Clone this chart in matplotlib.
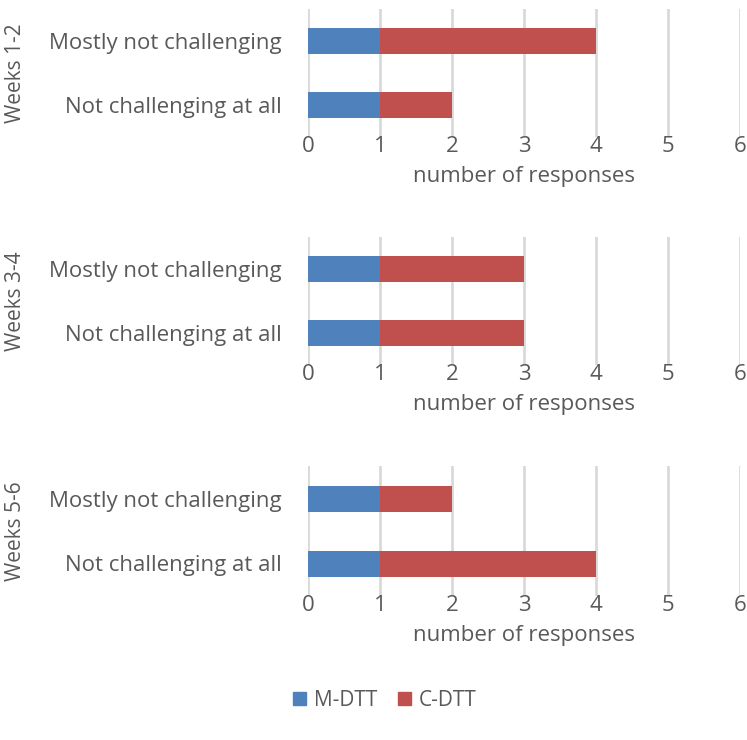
import matplotlib.pyplot as plt
from matplotlib.patches import Patch

plt.rcParams["font.family"] = ["Open Sans", "DejaVu Sans"]

categories = ["Not challenging at all", "Mostly not challenging"]
periods = ["Weeks 1-2", "Weeks 3-4", "Weeks 5-6"]
# values per period, ordered as categories (bottom to top)
m_dtt = [[1, 1], [1, 1], [1, 1]]
c_dtt = [[1, 3], [2, 2], [3, 1]]
xticks = [0, 1, 2, 3, 4, 5, 6]

BLUE = "#4F81BD"
RED = "#C0504D"
GRAY = "#595959"
GRID = "#D9D9D9"
FS = 16

fig = plt.figure(figsize=(7.47, 7.40), dpi=100)

W = 747
H = 740
left = 308 / W
width = (740 - 308) / W
panel_px = [(9, 137), (237, 365), (466, 596)]

for i, period in enumerate(periods):
    top, bot = panel_px[i]
    ax = fig.add_axes([left, (H - bot) / H, width, (bot - top) / H])
    y = range(len(categories))
    ax.barh(y, m_dtt[i], height=0.4, color=BLUE, zorder=3)
    ax.barh(y, c_dtt[i], left=m_dtt[i], height=0.4, color=RED, zorder=3)
    ax.set_xlim(0, 6)
    ax.set_ylim(-0.5, 1.5)
    ax.set_xticks(xticks)
    ax.set_yticks(list(y))
    ax.set_yticklabels(categories)
    ax.grid(True, axis="x", color=GRID, linewidth=2, zorder=0)
    for s in ax.spines.values():
        s.set_visible(False)
    ax.tick_params(length=0, labelsize=FS, colors=GRAY, pad=-1)
    ax.tick_params(axis="y", pad=19)
    ax.set_xlabel("number of responses", fontsize=FS, color=GRAY, labelpad=7)
    fig.text(16 / W, 1 - (top + bot) / 2 / H, period, rotation=90,
             ha="center", va="center", fontsize=15, color=GRAY)

handles = [Patch(color=BLUE, label="M-DTT"), Patch(color=RED, label="C-DTT")]
fig.legend(handles=handles, loc="center", bbox_to_anchor=(385 / W, 1 - 700 / H),
           ncol=2, frameon=False, fontsize=15, labelcolor=GRAY,
           handlelength=0.6, handleheight=0.6, columnspacing=1.0,
           handletextpad=0.4)

fig.savefig("out.png", dpi=100)
